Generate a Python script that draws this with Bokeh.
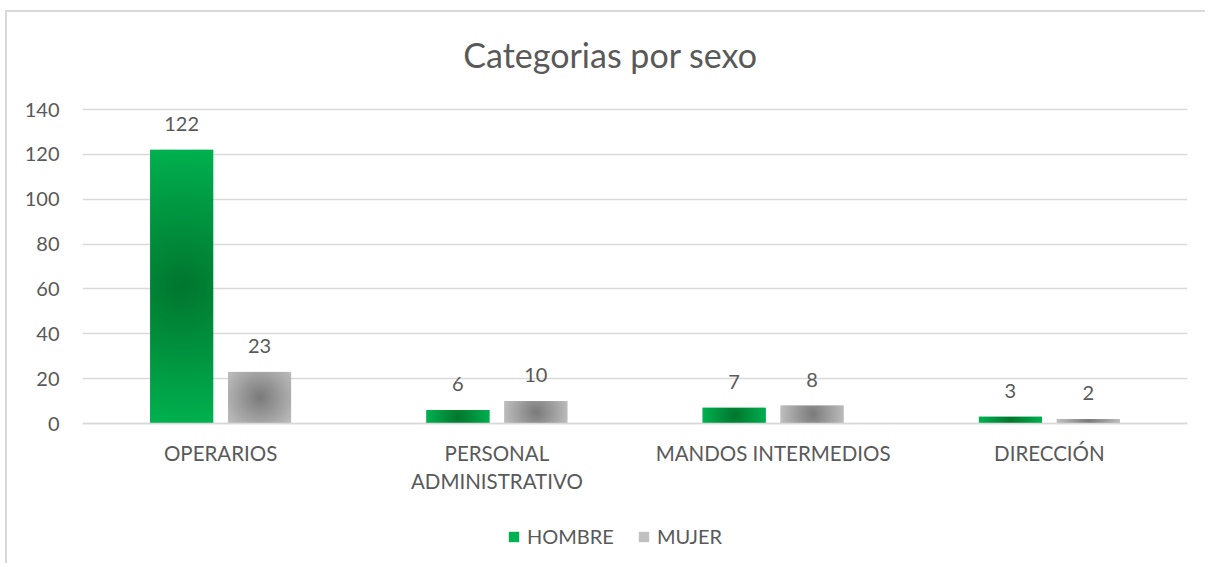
import numpy as np
from bokeh.plotting import figure
from bokeh.models import (Range1d, FixedTicker, Legend, LegendItem, Label, ColumnDataSource,
                          LinearAxis)
from bokeh.core.properties import value
from bokeh.embed import file_html
from bokeh.resources import INLINE

# ---- data ----
categories = ["OPERARIOS", "PERSONAL\nADMINISTRATIVO", "MANDOS INTERMEDIOS", "DIRECCIÓN"]
hombre = [122, 6, 7, 3]
mujer = [23, 10, 8, 2]
series_names = ["HOMBRE", "MUJER"]
y_ticks = [0, 20, 40, 60, 80, 100, 120, 140]
title_text = "Categorias por sexo"

# ---- style / layout (pixels) ----
FONT = "Lato"
TXT = "#595959"
GRID = "#d9d9d9"
W, H = 1200, 553
ML, MR = 75, 20
FW = W - ML - MR              # frame width in px
PX_PER_UNIT = 314 / 140       # vertical scale
ZERO_FROM_BOTTOM = 142        # px from frame bottom to the value 0
OFFSET = 0.141
BW = 0.228
GREEN_EDGE = np.array([0, 178, 80])
GREEN_CENTER = np.array([0, 118, 46])
GRAY_EDGE = np.array([192, 192, 192])
GRAY_CENTER = np.array([122, 122, 122])

y_lo = -ZERO_FROM_BOTTOM / PX_PER_UNIT
y_hi = (H - ZERO_FROM_BOTTOM) / PX_PER_UNIT

p = figure(width=W, height=H, output_backend="svg", toolbar_location=None,
           x_range=Range1d(0, len(categories)), y_range=Range1d(y_lo, y_hi),
           x_axis_location=None,
           min_border_left=ML, min_border_right=MR, min_border_top=0, min_border_bottom=0)
p.outline_line_color = None
p.styles = {"margin-left": "5px", "margin-top": "10px",
            "border-left": "2px solid #d9d9d9", "border-top": "2px solid #d9d9d9"}

centers = np.arange(len(categories)) + 0.5

# x axis fixed at value 0
xa = LinearAxis(fixed_location=0)
xa.ticker = FixedTicker(ticks=list(centers))
xa.major_label_overrides = {float(c): lab for c, lab in zip(centers, categories)}
xa.major_tick_line_color = None
xa.major_tick_out = 0
xa.minor_tick_line_color = None
xa.axis_line_color = GRID
xa.axis_line_width = 1.5
xa.major_label_text_font = FONT
xa.major_label_text_font_size = "20.5px"
xa.major_label_text_color = TXT
xa.major_label_standoff = 17
xa.major_label_text_line_height = 1.17
p.add_layout(xa, "below")

p.yaxis.ticker = FixedTicker(ticks=y_ticks)
p.yaxis.major_tick_line_color = None
p.yaxis.major_tick_out = 0
p.yaxis.minor_tick_line_color = None
p.yaxis.axis_line_color = None
p.yaxis.major_label_text_font = FONT
p.yaxis.major_label_text_font_size = "20px"
p.yaxis.major_label_text_color = TXT
p.yaxis.major_label_standoff = 23

p.xgrid.grid_line_color = None
p.ygrid.grid_line_color = GRID
p.ygrid.grid_line_width = 1.5


def radial(wpx, hpx, edge, center):
    wpx = max(int(round(wpx)), 1)
    hpx = max(int(round(hpx)), 1)
    yy, xx = np.mgrid[0:hpx, 0:wpx]
    dx = xx + 0.5 - wpx / 2
    dy = yy + 0.5 - hpx / 2
    d = np.sqrt(dx ** 2 + dy ** 2) / np.sqrt((wpx / 2) ** 2 + (hpx / 2) ** 2)
    t = np.clip(d, 0, 1)[..., None]
    rgb = center + (edge - center) * t
    img = np.empty((hpx, wpx), dtype=np.uint32)
    view = img.view(dtype=np.uint8).reshape((hpx, wpx, 4))
    view[..., :3] = np.round(rgb).astype(np.uint8)
    view[..., 3] = 255
    return img


renderers = {}
for name, vals, off, edge, center in [
        ("HOMBRE", hombre, -OFFSET, GREEN_EDGE, GREEN_CENTER),
        ("MUJER", mujer, OFFSET, GRAY_EDGE, GRAY_CENTER)]:
    xs = centers + off
    src = ColumnDataSource(dict(x=xs, top=vals, lab=[str(v) for v in vals]))
    edge_hex = "#%02x%02x%02x" % tuple(edge)
    center_hex = "#%02x%02x%02x" % tuple(center)
    vb = p.vbar(x="x", top="top", bottom=0, width=BW, source=src,
                fill_color=edge_hex, line_color=None)
    imgs = [radial(BW * FW / len(categories), v * PX_PER_UNIT, edge, center) for v in vals]
    p.image_rgba(image=imgs, x=list(xs - BW / 2), y=[0] * len(vals),
                 dw=[BW] * len(vals), dh=list(vals))
    p.text(x="x", y="top", text="lab", source=src, text_align="center",
           text_baseline="alphabetic", y_offset=-26, text_font=value(FONT),
           text_font_size="20px", text_color=TXT)
    dot = p.scatter(x=[], y=[], marker="square", fill_color=center_hex, line_color=None)
    renderers[name] = [vb, dot]

legend = Legend(items=[LegendItem(label=value(n), renderers=renderers[n]) for n in series_names],
                orientation="horizontal", location=(425, 17),
                glyph_width=13, glyph_height=13, label_standoff=7, spacing=23,
                padding=0, margin=0, border_line_color=None, background_fill_alpha=0,
                label_text_font=FONT, label_text_font_size="20px", label_text_color=TXT)
p.add_layout(legend, "center")

title = Label(x=528, y=511, x_units="screen", y_units="screen", text=title_text,
              text_align="center", text_baseline="alphabetic", text_font=FONT,
              text_font_size="34px", text_color=TXT)
p.add_layout(title)

open("out.html", "w").write(file_html(p, INLINE))
